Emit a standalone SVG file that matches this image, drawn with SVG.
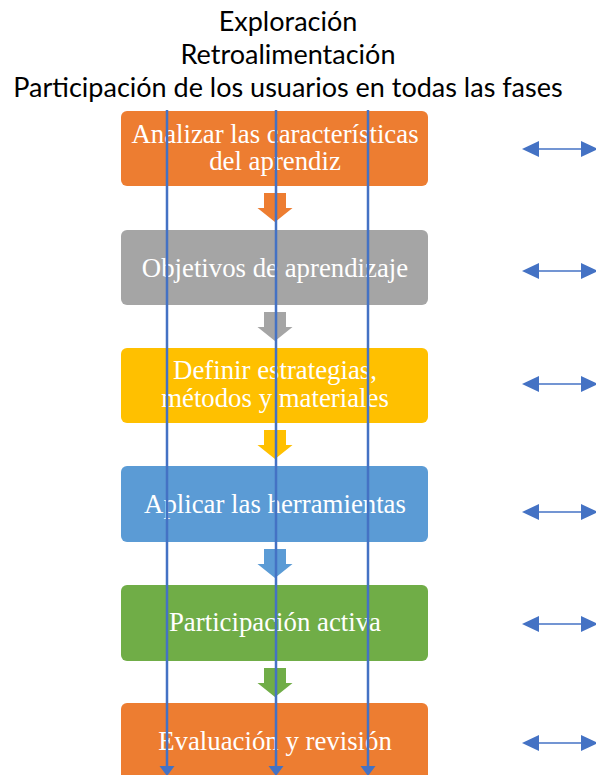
<svg xmlns="http://www.w3.org/2000/svg" width="596" height="775" viewBox="0 0 596 775">
<defs>
<style>
.hdr{font-family:Lato,"Open Sans","Liberation Sans",sans-serif;font-size:27px;fill:#000;text-anchor:middle}
.bt{font-family:"Liberation Serif","Times New Roman",serif;font-size:26.8px;fill:#fff;text-anchor:middle}
.vl{stroke:#4472C4;stroke-width:2.5;fill:none}
.dl{stroke:#4472C4;stroke-width:1.6;fill:none}
.ah{fill:#4472C4}
</style>
</defs>
<rect width="596" height="775" fill="#fff"/>
<g id="header">
<text class="hdr" x="288" y="31">Exploración</text>
<text class="hdr" x="288" y="64">Retroalimentación</text>
<text class="hdr" x="288" y="97">Participación de los usuarios en todas las fases</text>
</g>
<g id="node1">
<rect x="121" y="111" width="307" height="75" rx="6" fill="#ED7D31"/>
<text class="bt" x="275" y="143">Analizar las características</text>
<text class="bt" x="275" y="170">del aprendiz</text>
</g>
<g id="node2">
<rect x="121" y="230" width="307" height="75" rx="6" fill="#A5A5A5"/>
<text class="bt" x="275" y="277">Objetivos de aprendizaje</text>
</g>
<g id="node3">
<rect x="121" y="348" width="307" height="75" rx="6" fill="#FFC000"/>
<text class="bt" x="275" y="379">Definir estrategias,</text>
<text class="bt" x="275" y="407">métodos y materiales</text>
</g>
<g id="node4">
<rect x="121" y="466" width="307" height="76" rx="6" fill="#5B9BD5"/>
<text class="bt" x="275" y="513">Aplicar las herramientas</text>
</g>
<g id="node5">
<rect x="121" y="585" width="307" height="76" rx="6" fill="#70AD47"/>
<text class="bt" x="275" y="631">Participación activa</text>
</g>
<g id="node6">
<rect x="121" y="703" width="307" height="80" rx="6" fill="#ED7D31"/>
<text class="bt" x="275" y="750">Evaluación y revisión</text>
</g>
<g id="flow-arrows">
<path d="M264,193 H286 V208 H292.5 L275,222 L257.5,208 H264 Z" fill="#ED7D31"/>
<path d="M264,312 H286 V327 H292.5 L275,341 L257.5,327 H264 Z" fill="#A5A5A5"/>
<path d="M264,430 H286 V445 H292.5 L275,459 L257.5,445 H264 Z" fill="#FFC000"/>
<path d="M264,549 H286 V564 H292.5 L275,578 L257.5,564 H264 Z" fill="#5B9BD5"/>
<path d="M264,668 H286 V683 H292.5 L275,697 L257.5,683 H264 Z" fill="#70AD47"/>
</g>
<g id="connectors">
<line class="vl" x1="167" y1="110" x2="167" y2="766"/>
<path class="ah" d="M159.5,766 H174.5 L167,776 Z"/>
<line class="vl" x1="276" y1="110" x2="276" y2="766"/>
<path class="ah" d="M268.5,766 H283.5 L276,776 Z"/>
<line class="vl" x1="368" y1="110" x2="368" y2="766"/>
<path class="ah" d="M360.5,766 H375.5 L368,776 Z"/>
<g id="side-arrows">
<line class="dl" x1="538" y1="149" x2="582" y2="149"/>
<path class="ah" d="M522,149 L539,141 V157 Z M598,149 L581,141 V157 Z"/>
<line class="dl" x1="538" y1="271" x2="582" y2="271"/>
<path class="ah" d="M522,271 L539,263 V279 Z M598,271 L581,263 V279 Z"/>
<line class="dl" x1="538" y1="384" x2="582" y2="384"/>
<path class="ah" d="M522,384 L539,376 V392 Z M598,384 L581,376 V392 Z"/>
<line class="dl" x1="538" y1="512" x2="582" y2="512"/>
<path class="ah" d="M522,512 L539,504 V520 Z M598,512 L581,504 V520 Z"/>
<line class="dl" x1="538" y1="624" x2="582" y2="624"/>
<path class="ah" d="M522,624 L539,616 V632 Z M598,624 L581,616 V632 Z"/>
<line class="dl" x1="538" y1="743" x2="582" y2="743"/>
<path class="ah" d="M522,743 L539,735 V751 Z M598,743 L581,735 V751 Z"/>
</g>
</g>
</svg>
